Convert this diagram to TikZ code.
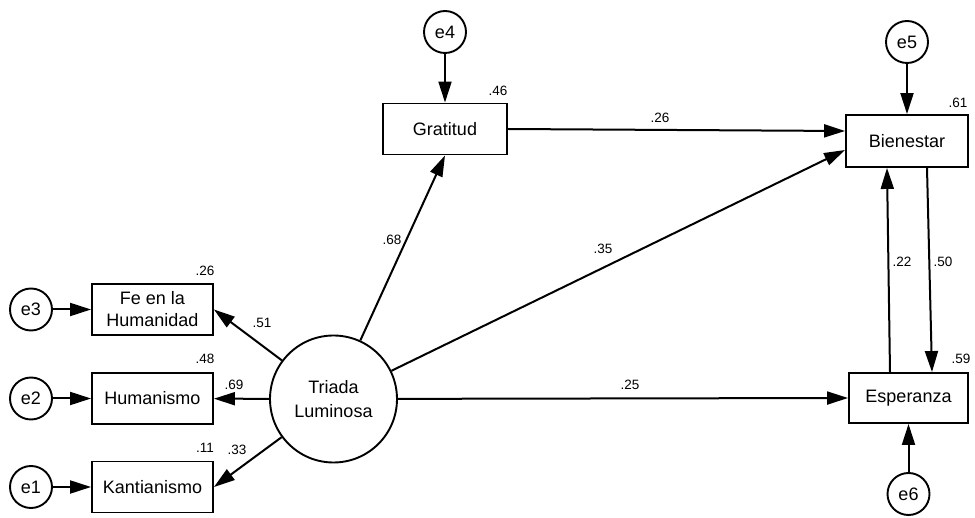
\documentclass[tikz,border=0pt]{standalone}
\usepackage{fontspec}
\setmainfont{Liberation Sans}
\usetikzlibrary{arrows.meta}
\begin{document}
\begin{tikzpicture}[x=1pt,y=-1pt,
  box/.style={draw, line width=1.9pt, minimum width=121pt, minimum height=51pt, inner sep=0pt, align=center, font=\fontsize{18}{22}\selectfont},
  err/.style={draw, circle, line width=1.9pt, minimum size=42pt, inner sep=0pt, font=\fontsize{18}{22}\selectfont},
  lat/.style={draw, circle, line width=1.9pt, minimum size=127pt, inner sep=0pt, align=center, font=\fontsize{18}{24}\selectfont},
  arr/.style={line width=2pt, -{Triangle[length=21pt,width=13pt]}},
  lbl/.style={font=\fontsize{13.5}{15}\selectfont, inner sep=0pt}
]
\useasboundingbox[fill=white] (0,0) rectangle (975,518);

% observed variables
\node[box] (fe) at (152.5,309.5) {Fe en la\\Humanidad};
\node[box] (hum) at (152.5,398.5) {Humanismo};
\node[box] (kant) at (152.5,487) {Kantianismo};
\node[box, minimum width=124pt] (grat) at (445,129) {Gratitud};
\node[box, minimum width=122pt, minimum height=52pt] (bien) at (907,141) {Bienestar};
\node[box, minimum width=119pt, minimum height=50pt] (esp) at (908.5,398) {Esperanza};

% latent
\node[lat] (tri) at (333.5,399) {Triada\\Luminosa};

% errors
\node[err] (e3) at (31,309.5) {e3};
\node[err] (e2) at (31,398.5) {e2};
\node[err] (e1) at (31,487) {e1};
\node[err] (e4) at (445,32) {e4};
\node[err] (e5) at (907,42) {e5};
\node[err] (e6) at (908.5,494) {e6};

% error arrows
\draw[arr] (e3) -- (fe);
\draw[arr] (e2) -- (hum);
\draw[arr] (e1) -- (kant);
\draw[arr] (e4) -- (grat);
\draw[arr] (e5) -- (bien);
\draw[arr] (e6) -- (esp);

% structural paths
\draw[arr] (tri) -- (fe.east);
\draw[arr] (tri) -- (hum);
\draw[arr] (tri) -- (kant.east);
\draw[arr] (tri) -- (grat.south);
\draw[arr] (grat.east) -- ([yshift=10pt]bien.west);
\draw[arr] (tri) -- ([yshift=-9pt]bien.west);
\draw[arr] (tri) -- (esp.west);
\draw[arr] ([xshift=-18.5pt]esp.north) -- ([xshift=-20pt]bien.south);
\draw[arr] ([xshift=20pt]bien.south) -- ([xshift=23.5pt]esp.north);

% labels
\node[lbl] (l26a) at (205,271) {.26};
\node[lbl] (l48) at (205,359) {.48};
\node[lbl] (l11) at (205,448) {.11};
\node[lbl] (l51) at (262,323) {.51};
\node[lbl] (l69) at (234,385) {.69};
\node[lbl] (l33) at (237,450) {.33};
\node[lbl] (l46) at (498,91) {.46};
\node[lbl] (l68) at (392,240) {.68};
\node[lbl] (l26b) at (660,118) {.26};
\node[lbl] (l35) at (603,249) {.35};
\node[lbl] (l25) at (630,385) {.25};
\node[lbl] (l61) at (958,103) {.61};
\node[lbl] (l59) at (961,359) {.59};
\node[lbl] (l22) at (902,262) {.22};
\node[lbl] (l50) at (943,262) {.50};
\end{tikzpicture}
\end{document}
